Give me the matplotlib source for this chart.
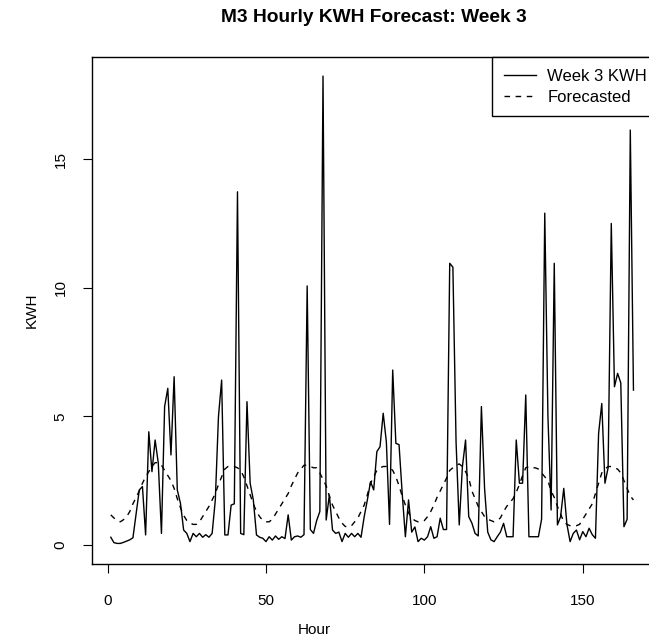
import numpy as np
import matplotlib
matplotlib.use("Agg")
import matplotlib.pyplot as plt

plt.rcParams["font.family"] = ["Liberation Sans", "DejaVu Sans"]

# Hourly data, week 3 (hours 1..166)
hours = np.arange(1, 167)

kwh = [
    0.30, 0.09, 0.06, 0.06, 0.10, 0.15, 0.20, 0.28, 1.20, 2.14,
    2.27, 0.39, 4.40, 2.85, 4.08, 3.18, 0.45, 5.38, 6.09, 3.50,
    6.54, 2.14, 1.62, 0.58, 0.45, 0.13, 0.45, 0.32, 0.45, 0.30,
    0.40, 0.30, 0.45, 1.75, 5.00, 6.41, 0.39, 0.39, 1.55, 1.60,
    13.73, 0.45, 0.40, 5.57, 2.40, 1.75, 0.39, 0.30, 0.26, 0.13,
    0.32, 0.19, 0.35, 0.22, 0.32, 0.25, 1.17, 0.19, 0.32, 0.35,
    0.30, 0.40, 10.07, 0.60, 0.45, 0.95, 1.30, 18.23, 0.97, 1.94,
    0.58, 0.45, 0.50, 0.13, 0.45, 0.30, 0.45, 0.32, 0.45, 0.30,
    1.10, 1.75, 2.46, 2.14, 3.63, 3.82, 5.12, 4.00, 0.80, 6.80,
    3.95, 3.90, 2.00, 0.32, 1.75, 0.50, 0.70, 0.13, 0.26, 0.19,
    0.32, 0.71, 0.26, 0.32, 1.04, 0.60, 0.60, 10.95, 10.80, 4.00,
    0.78, 3.04, 4.08, 1.10, 0.85, 0.45, 0.35, 5.38, 2.20, 0.50,
    0.20, 0.13, 0.32, 0.50, 0.84, 0.32, 0.32, 0.32, 4.08, 2.40,
    2.40, 5.83, 0.32, 0.32, 0.32, 0.32, 1.00, 12.90, 5.00, 1.36,
    10.95, 0.78, 1.10, 2.20, 0.80, 0.13, 0.45, 0.58, 0.20, 0.52,
    0.32, 0.65, 0.40, 0.26, 4.34, 5.50, 2.40, 3.00, 12.50, 6.15,
    6.67, 6.30, 0.71, 1.00, 16.13, 6.02,
]

forecast = [
    1.17, 1.05, 0.95, 0.90, 0.98, 1.10, 1.30, 1.60, 1.85, 2.10,
    2.40, 2.65, 2.85, 3.05, 3.20, 3.20, 3.10, 2.90, 2.70, 2.50,
    2.20, 1.80, 1.45, 1.15, 0.95, 0.85, 0.80, 0.80, 0.90, 1.10,
    1.30, 1.50, 1.75, 2.00, 2.35, 2.65, 2.95, 3.05, 3.07, 3.05,
    3.00, 2.90, 2.65, 2.30, 1.95, 1.60, 1.30, 1.10, 0.95, 0.90,
    0.90, 1.00, 1.20, 1.40, 1.60, 1.80, 2.00, 2.30, 2.55, 2.80,
    2.95, 3.10, 3.10, 3.05, 3.00, 3.00, 2.80, 2.55, 2.30, 1.90,
    1.55, 1.30, 1.05, 0.85, 0.72, 0.70, 0.75, 0.90, 1.05, 1.30,
    1.55, 1.95, 2.40, 2.65, 2.90, 3.00, 3.05, 3.05, 3.00, 2.90,
    2.65, 2.30, 1.90, 1.55, 1.25, 1.05, 0.95, 0.90, 0.90, 0.95,
    1.10, 1.30, 1.55, 1.85, 2.10, 2.35, 2.60, 2.90, 3.00, 3.10,
    3.15, 3.05, 2.85, 2.60, 2.10, 1.80, 1.50, 1.30, 1.10, 1.00,
    0.95, 0.90, 0.95, 1.05, 1.30, 1.50, 1.65, 1.80, 2.05, 2.35,
    2.70, 3.00, 3.05, 3.00, 3.00, 2.95, 2.80, 2.65, 2.50, 2.10,
    1.85, 1.50, 1.20, 0.90, 0.80, 0.75, 0.75, 0.75, 0.80, 1.00,
    1.20, 1.40, 1.60, 2.00, 2.40, 2.80, 2.95, 3.05, 3.05, 3.00,
    2.95, 2.80, 2.50, 2.20, 1.90, 1.75,
]

x_ticks = [0, 50, 100, 150]
y_ticks = [0, 5, 10, 15]

W, H = 649, 638
fig = plt.figure(figsize=(W / 100, H / 100), dpi=100)

# plot box in pixels (right edge runs past the picture, as in the source)
left, right, top, bottom = 91.7, 658.8, 57, 564
ax = fig.add_axes([left / W, 1 - bottom / H, (right - left) / W, (bottom - top) / H])

ax.plot(hours, kwh, color="black", lw=1.0, label="Week 3 KWH")
ax.plot(hours, forecast, color="black", lw=1.0, dashes=(4, 4), label="Forecasted")

ax.set_xlim(-5.02, 174.0)
ax.set_ylim(-0.74, 18.97)
ax.set_xticks(x_ticks)
ax.set_yticks(y_ticks)
ax.tick_params(axis="both", length=6.5, width=0.8, labelsize=11, color="black")
ax.tick_params(axis="x", pad=15)
ax.tick_params(axis="y", pad=11)
for lab in ax.get_yticklabels():
    lab.set_rotation(90)
    lab.set_va("center")
for s in ax.spines.values():
    s.set_linewidth(1.0)
    s.set_color("black")

leg = ax.legend(loc="upper right", fontsize=12, frameon=True, fancybox=False,
                edgecolor="black", framealpha=1, borderaxespad=0,
                handlelength=1.9, handletextpad=0.7, labelspacing=0.35,
                borderpad=0.7)
leg.get_frame().set_linewidth(1.0)

fig.text(373.5 / W, 1 - 17 / H, "M3 Hourly KWH Forecast: Week 3",
         ha="center", va="center", fontsize=13.8, fontweight="bold")
fig.text(314 / W, 1 - 630 / H, "Hour", ha="center", va="center", fontsize=11)
fig.text(32 / W, 1 - 310 / H, "KWH", ha="center", va="center", fontsize=11,
         rotation=90)

fig.savefig("out.png", dpi=100)
